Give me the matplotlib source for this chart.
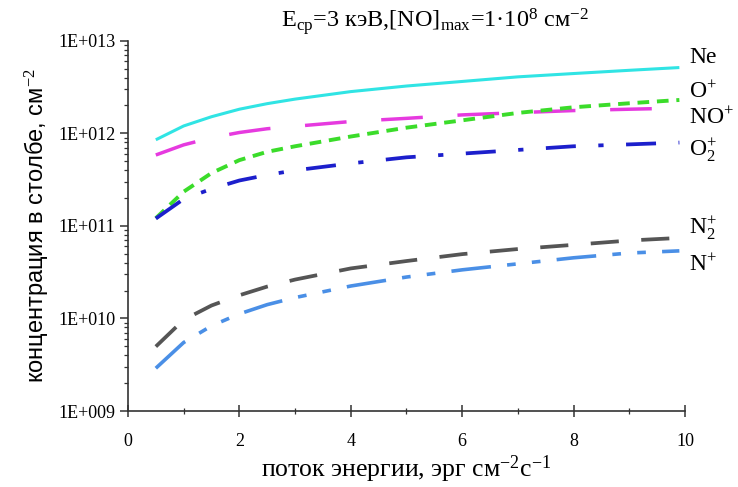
import matplotlib
matplotlib.use('Agg')
import matplotlib.pyplot as plt
from matplotlib.ticker import FixedLocator, FuncFormatter, LogLocator, MultipleLocator
import numpy as np

plt.rcParams['font.family'] = ['Liberation Serif', 'DejaVu Serif']
plt.rcParams['mathtext.fontset'] = 'custom'
plt.rcParams['mathtext.rm'] = 'Liberation Serif'
plt.rcParams['mathtext.it'] = 'Liberation Serif:italic'

# energy flux, erg cm-2 s-1
flux = [0.5, 1, 1.5, 2, 2.5, 3, 4, 5, 6, 7, 8, 9, 9.9]

# column concentration, cm-2
ne = [8.51e11, 1.20e12, 1.51e12, 1.82e12, 2.09e12, 2.34e12, 2.82e12,
      3.24e12, 3.63e12, 4.07e12, 4.42e12, 4.79e12, 5.13e12]
no_plus = [5.83e11, 7.50e11, 8.95e11, 1.02e12, 1.12e12, 1.19e12, 1.34e12,
           1.45e12, 1.58e12, 1.67e12, 1.76e12, 1.82e12, 1.87e12]
o_plus = [1.21e11, 2.34e11, 3.72e11, 5.13e11, 6.31e11, 7.24e11, 9.23e11,
          1.15e12, 1.38e12, 1.66e12, 1.91e12, 2.11e12, 2.29e12]
o2_plus = [1.20e11, 1.95e11, 2.51e11, 3.09e11, 3.55e11, 3.98e11, 4.73e11,
           5.50e11, 6.03e11, 6.61e11, 7.24e11, 7.59e11, 7.94e11]
n2_plus = [4.97e9, 9.66e9, 1.38e10, 1.78e10, 2.21e10, 2.63e10, 3.47e10,
           4.17e10, 4.95e10, 5.62e10, 6.24e10, 6.95e10, 7.41e10]
n_plus = [2.90e9, 5.50e9, 8.32e9, 1.12e10, 1.41e10, 1.68e10, 2.24e10,
          2.80e10, 3.35e10, 3.89e10, 4.52e10, 5.09e10, 5.37e10]

labels = ['Ne', r'O$^{+}$', r'NO$^{+}$', r'O$_{2}^{+}$', r'N$_{2}^{+}$', r'N$^{+}$']
label_y = [6.6e12, 2.75e12, 1.45e12, 6.6e11, 9.3e10, 3.8e10]

fig = plt.figure(figsize=(7.38, 4.87), dpi=100)
ax = fig.add_axes([0.1734, 0.156, 0.7547, 0.7604])

ax.plot(flux, ne, color='#30e4e4', lw=2.2, solid_capstyle='butt')
ax.plot(flux, no_plus, color='#e63adf', lw=2.5, dashes=(12, 10))
ax.plot(flux, o_plus, color='#3bdc2a', lw=2.8, dashes=(3, 2))
ax.plot(flux, o2_plus, color='#1c1fcc', lw=2.7, dashes=(8, 6, 1.4, 6))
ax.plot(flux, n2_plus, color='#555555', lw=2.7, dashes=(7.5, 6))
ax.plot(flux, n_plus, color='#4a8fe6', lw=2.6, dashes=(11, 4.5, 2.4, 4.5, 2.4, 4.5))

for lab, yy in zip(labels, label_y):
    ax.text(10.08, yy, lab, fontsize=17, ha='left', va='center', clip_on=False)

ax.set_yscale('log')
ax.set_xlim(0, 10)
ax.set_ylim(1e9, 1e13)
ax.yaxis.set_major_locator(FixedLocator([1e9, 1e10, 1e11, 1e12, 1e13]))
ax.yaxis.set_major_formatter(FuncFormatter(lambda v, p: '1E+%03d' % int(round(np.log10(v)))))
ax.yaxis.set_minor_locator(LogLocator(base=10, subs=np.arange(2, 10)))
ax.yaxis.set_minor_formatter(FuncFormatter(lambda v, p: ''))
ax.xaxis.set_major_locator(MultipleLocator(2))
ax.xaxis.set_minor_locator(MultipleLocator(1))

for s in ['top', 'right']:
    ax.spines[s].set_visible(False)
for s in ['left', 'bottom']:
    ax.spines[s].set_color('#333333')
    ax.spines[s].set_linewidth(1.2)

ax.tick_params(axis='y', which='major', direction='out', length=6, width=1.1,
               color='#333333', labelsize=13, pad=3)
ax.tick_params(axis='y', which='minor', direction='out', length=3, width=0.9, color='#333333')
ax.tick_params(axis='x', which='major', direction='inout', length=8, width=1.1,
               color='#333333', labelsize=13, pad=12)
ax.tick_params(axis='x', which='minor', direction='inout', length=5, width=0.9, color='#333333')

ax.set_xlabel(r'поток энергии, эрг см$^{-2}$с$^{-1}$', fontsize=18.5, labelpad=2)
ax.set_ylabel(r'концентрация в столбе, см$^{-2}$', fontsize=17,
              family=['Liberation Sans', 'DejaVu Sans'], labelpad=6)

fig.text(0.589, 0.955, r'E$_{\mathrm{ср}}$=3 кэВ,[NO]$_{\mathrm{max}}$=1·10$^{8}$ см$^{-2}$',
         fontsize=17.5, ha='center', va='center')

fig.savefig('out.png', dpi=100)
